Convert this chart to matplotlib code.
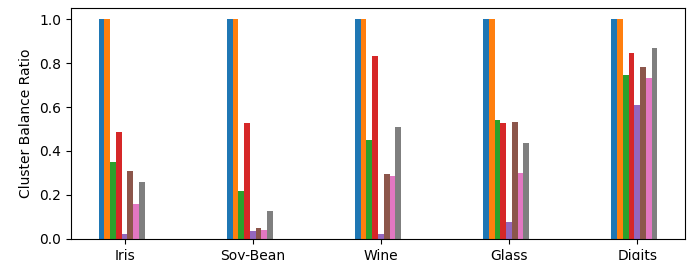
import numpy as np
import matplotlib
matplotlib.use("Agg")
import matplotlib.pyplot as plt

datasets = ["Iris", "Soy-Bean", "Wine", "Glass", "Digits"]

# one list per method (8 methods), values per dataset
m1 = [1.0, 1.0, 1.0, 1.0, 1.0]
m2 = [1.0, 1.0, 1.0, 1.0, 1.0]
m3 = [0.35, 0.218, 0.45, 0.541, 0.745]
m4 = [0.486, 0.527, 0.832, 0.527, 0.845]
m5 = [0.023, 0.036, 0.023, 0.077, 0.609]
m6 = [0.309, 0.05, 0.295, 0.532, 0.782]
m7 = [0.159, 0.041, 0.286, 0.30, 0.732]
m8 = [0.259, 0.127, 0.509, 0.436, 0.868]
methods = [m1, m2, m3, m4, m5, m6, m7, m8]

x = np.arange(len(datasets))
w = 0.045

fig, ax = plt.subplots(figsize=(7, 2.6), dpi=100)
for i, vals in enumerate(methods):
    ax.bar(x + (i - 4) * w, vals, width=w)

ax.set_xticks(x)
ax.set_xticklabels(datasets)
ax.set_ylabel("Cluster Balance Ratio")

plt.subplots_adjust(left=0.101, right=0.979, top=0.969, bottom=0.081)
plt.savefig("out.png")
